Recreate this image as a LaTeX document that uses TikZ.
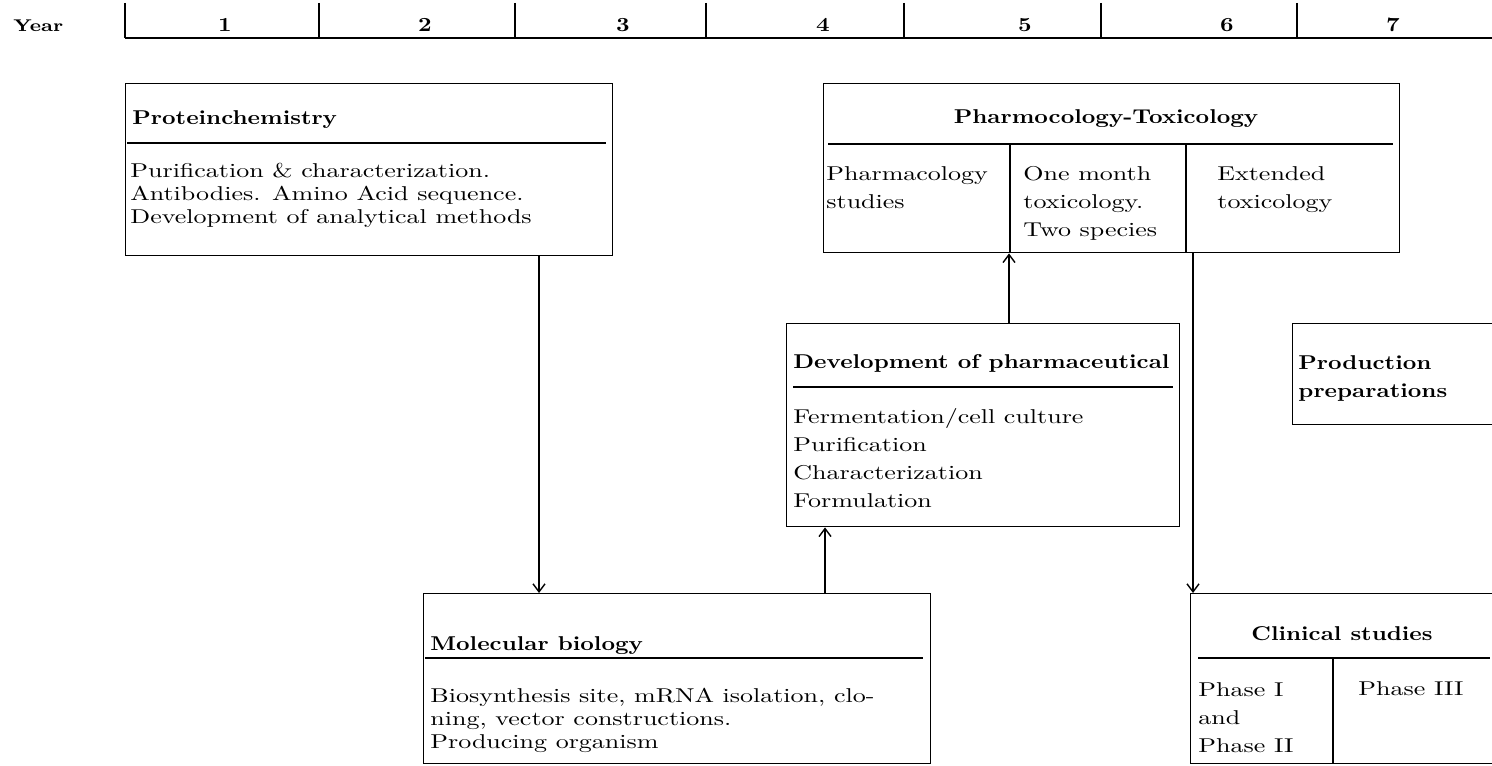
\documentclass[tikz,border=0pt]{standalone}
\usepackage{fontspec}
\setmainfont{Latin Modern Roman}[FakeStretch=1.3]
\newfontfamily\headfont{Latin Modern Roman}[FakeStretch=1.18]
\usetikzlibrary{arrows.meta,positioning}

\tikzset{
  stage/.style 2 args={draw, line width=0.7pt, anchor=north west, inner sep=0pt,
    minimum width=#1, minimum height=#2},
  head/.style={font=\headfont\bfseries\fontsize{10}{14}\selectfont, inner sep=0pt, align=left},
  body/.style={font=\fontsize{10}{11.5}\selectfont, align=left, inner sep=0pt, anchor=base west},
  loose/.style={font=\fontsize{10}{14}\selectfont},
  sep/.style={line width=0.7pt},
  flow/.style={-{Straight Barb[length=4pt,width=6pt]}, line width=0.7pt},
}

\begin{document}
\begin{tikzpicture}[x=0.5pt,y=-0.5pt]
\useasboundingbox (0,0) rectangle (1492,765);
\clip (0,0) rectangle (1492,765);
% time axis
\node[head, anchor=base west, font=\headfont\bfseries\fontsize{8.5}{10}\selectfont] (year) at (13,32) {Year};
\draw[sep] (125,38) -- (1492,38);
\foreach \x in {125,319,515,706,904,1101,1297} \draw[sep] (\x,3) -- (\x,38);
\foreach \x/\n in {225/1,425/2,623/3,823/4,1025/5,1227/6,1393/7}
  \node[head, anchor=base] (yr\n) at (\x,32) {\n};

% boxes
\node[stage={243.5pt}{86pt}] (pc) at (125,83) {};
\node[stage={288pt}{84.5pt}] (ph) at (823,83) {};
\node[stage={196.5pt}{101.5pt}] (dev) at (786,323) {};
\node[stage={105pt}{50.5pt}] (prod) at (1292,323) {};
\node[stage={253.5pt}{85pt}] (mb) at (423,593) {};
\node[stage={152.5pt}{85pt}] (clin) at (1190,593) {};

% rules and column lines
\draw[sep] (127,143) -- (606,143);
\draw[sep] (828,144) -- (1393,144);
\draw[sep] (793,387) -- (1173,387);
\draw[sep] (425,658) -- (923,658);
\draw[sep] (1198,658) -- (1490,658);
\draw[sep] (1010,144) -- (ph.south -| 1010,0);
\draw[sep] (1186,144) -- (ph.south -| 1186,0);
\draw[sep] (1333,658) -- (clin.south -| 1333,0);

% texts (multi-line nodes sit on their last baseline)
\node[head, anchor=base west] (pcT) at (132,125) {Proteinchemistry};
\node[body] (pcB) at (130,223) {Purification \& characterization.\\Antibodies. Amino Acid sequence.\\Development of analytical methods};
\node[head, anchor=base] (phT) at (1106,123) {Pharmocology-Toxicology};
\node[body, loose] (ph1) at (826,208) {Pharmacology\\studies};
\node[body, loose] (ph2) at (1023,236) {One month\\toxicology.\\Two species};
\node[body, loose] (ph3) at (1217,208) {Extended\\toxicology};
\node[head, anchor=base west] (devT) at (793,368) {Development of pharmaceutical};
\node[body, loose] (devB) at (793,507) {Fermentation/cell culture\\Purification\\Characterization\\Formulation};
\node[head, anchor=base west] (prodT) at (1298,397) {Production\\preparations};
\node[head, anchor=base west] (mbT) at (430,650) {Molecular biology};
\node[body] (mbB) at (430,748) {Biosynthesis site, mRNA isolation, clo-\\ning, vector constructions.\\Producing organism};
\node[head, anchor=base] (clinT) at (1342,640) {Clinical studies};
\node[body, loose] (clin1) at (1198,752) {Phase I\\and\\Phase II};
\node[body, loose] (clin2) at (1358,695) {Phase III};

% connectors
\draw[flow] (pc.south -| 539,0) -- (mb.north -| 539,0);
\draw[flow] (mb.north -| 825,0) -- (dev.south -| 825,0);
\draw[flow] (dev.north -| 1009,0) -- (ph.south -| 1009,0);
\draw[flow] (ph.south -| 1193,0) -- (clin.north -| 1193,0);
\end{tikzpicture}
\end{document}
